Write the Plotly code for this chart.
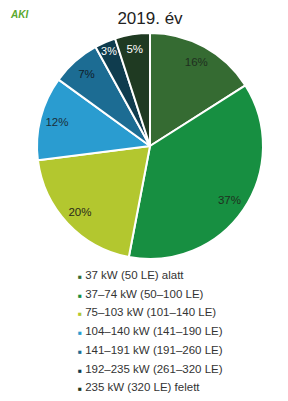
import plotly.graph_objects as go

categories = [
    "37 kW (50 LE) alatt",
    "37–74 kW (50–100 LE)",
    "75–103 kW (101–140 LE)",
    "104–140 kW (141–190 LE)",
    "141–191 kW (191–260 LE)",
    "192–235 kW (261–320 LE)",
    "235 kW (320 LE) felett",
]
values = [16, 37, 20, 12, 7, 3, 5]
colors = ["#356b32", "#178f41", "#b3c72f", "#2a9cd0", "#1c6c93", "#0f3c4e", "#1f3a22"]
text_colors = ["#1f2f1f", "#1f2f1f", "#2a2a1a", "#1a2f3a", "#10202a", "#ffffff", "#ffffff"]
title = "2019. év"

W, H = 288, 401
cx, cy, R = 150, 146, 113
dom_x = [(cx - R) / W, (cx + R) / W]
dom_y = [1 - (cy + R) / H, 1 - (cy - R) / H]

fig = go.Figure()
fig.add_trace(go.Pie(
    labels=categories, values=values, sort=False, direction="clockwise", rotation=0,
    marker=dict(colors=colors, line=dict(color="white", width=2)),
    textinfo="none", showlegend=False, hoverinfo="label+percent",
    domain=dict(x=dom_x, y=dom_y),
))
# label ring: transparent donut carries the percentage texts near the rim
fig.add_trace(go.Pie(
    labels=categories, values=values, sort=False, direction="clockwise", rotation=0,
    hole=0.7,
    marker=dict(colors=["rgba(0,0,0,0)"] * len(values), line=dict(width=0)),
    text=[f"{v}%" for v in values], textinfo="text",
    textposition="inside", insidetextorientation="horizontal",
    textfont=dict(family="Liberation Sans, Arial", size=11.5, color=text_colors),
    showlegend=False, hoverinfo="skip",
    domain=dict(x=dom_x, y=dom_y),
))

annotations = []
y0, dy = 275, 18.7
for i, (c, col) in enumerate(zip(categories, colors)):
    annotations.append(dict(
        x=76 / W, y=1 - (y0 + i * dy) / H, xref="paper", yref="paper",
        xanchor="left", yanchor="middle", showarrow=False,
        text=f"<span style='font-size:6.5px;color:{col}'>■</span> {c}",
        font=dict(family="Liberation Sans, Arial", size=11.5, color="#333333"),
    ))
annotations.append(dict(
    x=8 / W, y=1 - 14 / H, xref="paper", yref="paper", xanchor="left", yanchor="middle",
    showarrow=False, text="<b><i>AKI</i></b>",
    font=dict(family="Liberation Sans, Arial", size=10, color="#5aa82e"),
))

fig.update_layout(
    width=W, height=H, margin=dict(l=0, r=0, t=0, b=0),
    paper_bgcolor="white", plot_bgcolor="white",
    title=dict(text=title, x=cx / W, xanchor="center", y=1 - 18 / H, yanchor="middle",
               font=dict(family="Liberation Sans, Arial", size=17, color="#222222")),
    annotations=annotations,
)
fig.write_html("out.html")
